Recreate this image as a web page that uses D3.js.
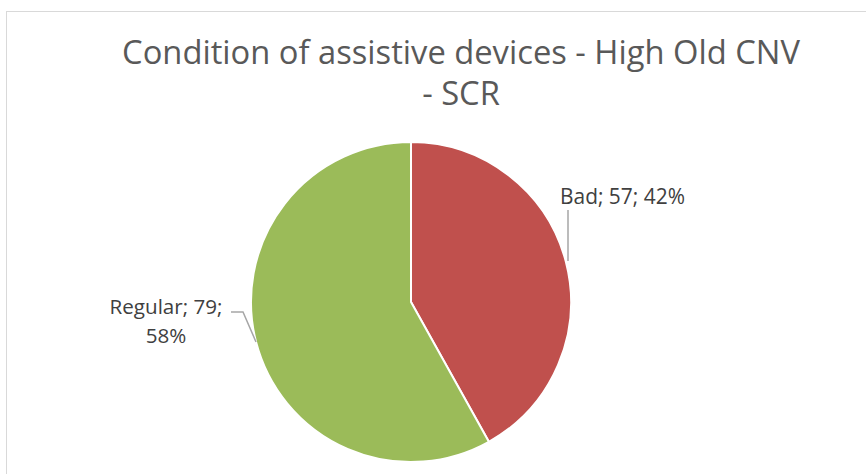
<!DOCTYPE html>
<html lang="en">
<head>
    <meta charset="UTF-8">
    <title>Condition of assistive devices</title>
    <style>
        body { margin: 0; background: #fff; }
        text { font-family: "Open Sans", "Liberation Sans", sans-serif; }
    </style>
</head>
<body>
    <div id="chart"></div>

    <script src="https://d3js.org/d3.v7.min.js"></script>
    <script>
        // Data
        const categories = ["Bad", "Regular"];
        const counts = [57, 79];
        const sliceColors = ["#C0504D", "#9BBB59"];
        const titleLines = ["Condition of assistive devices - High Old CNV", "- SCR"];

        const width = 866;
        const height = 474;

        const svg = d3.select("#chart")
            .append("svg")
            .attr("width", width)
            .attr("height", height);

        // chart area border
        svg.append("rect")
            .attr("x", 6.5)
            .attr("y", 11.5)
            .attr("width", 880)
            .attr("height", 500)
            .attr("fill", "none")
            .attr("stroke", "#d9d9d9");

        // scale the font so the text spans a given width, return the size
        function fitWidth(sel, target) {
            const size = parseFloat(sel.attr("font-size"));
            const w = sel.node().getComputedTextLength();
            const s = +(size * target / w).toFixed(2);
            sel.attr("font-size", s);
            return s;
        }

        // Title
        const title = svg.append("g").attr("fill", "#595959");
        const t1 = title.append("text")
            .attr("x", 461).attr("y", 64)
            .attr("text-anchor", "middle")
            .attr("font-size", 30)
            .text(titleLines[0]);
        const titleSize = fitWidth(t1, 678);
        title.append("text")
            .attr("x", 461).attr("y", 105)
            .attr("text-anchor", "middle")
            .attr("font-size", titleSize)
            .text(titleLines[1]);

        // Pie
        const cx = 411, cy = 302, radius = 160;
        const data = categories.map((c, i) => ({ name: c, value: counts[i] }));
        const total = d3.sum(counts);

        const pie = d3.pie().sort(null).value(d => d.value);
        const arc = d3.arc().innerRadius(0).outerRadius(radius);
        const color = d3.scaleOrdinal().domain(categories).range(sliceColors);

        const g = svg.append("g").attr("transform", `translate(${cx}, ${cy})`);
        g.selectAll("path")
            .data(pie(data))
            .enter()
            .append("path")
            .attr("d", arc)
            .attr("fill", d => color(d.data.name))
            .attr("stroke", "#fff")
            .attr("stroke-width", 2)
            .attr("stroke-linejoin", "round");

        // Data labels with leader lines
        const labelColor = "#404040";
        const lineColor = "#a6a6a6";
        const pct = d => Math.round(d.value / total * 100) + "%";

        // Bad
        svg.append("text")
            .attr("x", 560).attr("y", 204)
            .attr("fill", labelColor)
            .attr("font-size", 20)
            .text(`${data[0].name}; ${data[0].value}; ${pct(data[0])}`)
            .call(s => fitWidth(s, 125));
        svg.append("path")
            .attr("d", "M568,210 L568,261")
            .attr("stroke", lineColor)
            .attr("stroke-width", 1.5)
            .attr("fill", "none");

        // Regular
        const reg = data[1];
        const r1 = svg.append("text")
            .attr("x", 166).attr("y", 314)
            .attr("fill", labelColor)
            .attr("text-anchor", "middle")
            .attr("font-size", 20)
            .text(`${reg.name}; ${reg.value};`);
        const regSize = fitWidth(r1, 113);
        svg.append("text")
            .attr("x", 166).attr("y", 343)
            .attr("fill", labelColor)
            .attr("text-anchor", "middle")
            .attr("font-size", regSize)
            .text(pct(reg));

        svg.append("path")
            .attr("d", "M231,312 L243,312 L256,342")
            .attr("stroke", lineColor)
            .attr("stroke-width", 1.5)
            .attr("fill", "none");
    </script>
</body>
</html>
